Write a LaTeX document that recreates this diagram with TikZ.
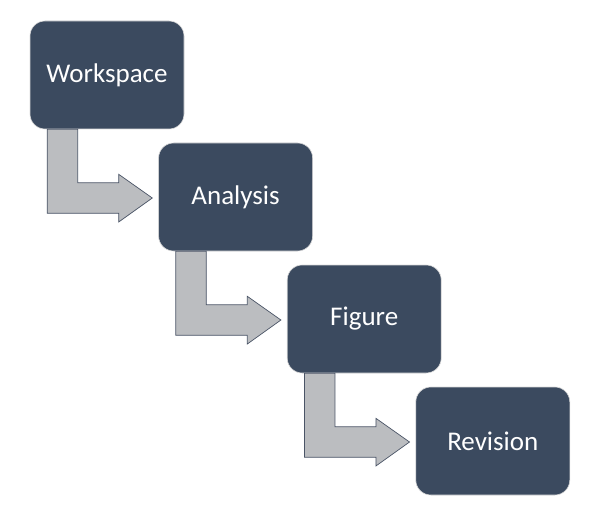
\documentclass[tikz,border=0pt]{standalone}
\usepackage{fontspec}
\setmainfont{Carlito}
\usetikzlibrary{calc,positioning}
\definecolor{boxblue}{HTML}{3B4A5F}
\definecolor{arrowgrey}{HTML}{BBBDC0}
\definecolor{arrowline}{HTML}{4A5466}

\begin{document}
\begin{tikzpicture}[x=1pt,y=1pt]

\tikzset{stepbox/.style={shape=rectangle,rounded corners=15pt,fill=boxblue,draw=black!15,line width=0.6pt,minimum width=154pt,minimum height=108pt,inner sep=0pt,text=white,font=\fontsize{27}{31}\selectfont},
bentarrow/.style={fill=arrowgrey,draw=arrowline,line width=0.7pt,line join=miter}}

\useasboundingbox (0,0) rectangle (589,507);

% boxes
\node[stepbox] (ws) at (107,432) {Workspace};
\node[stepbox] (ana) at ($(ws)+(128.6,-122)$) {Analysis};
\node[stepbox] (fig) at ($(ana)+(128.6,-122)$) {Figure};
\node[stepbox] (rev) at ($(fig)+(128.6,-122)$) {Revision};

% bent arrows
\foreach \a/\b in {ws/ana, ana/fig, fig/rev}
  \draw[bentarrow] ($(\a.south west)+(17.5,0)$) -- ($(\a.south west)+(48,0)$)
    -- ($(\a.south west)+(48,-53.5)$) -- ($(\a.south west)+(89,-53.5)$)
    -- ($(\a.south west)+(89,-45)$) -- ($(\b.west)+(-6,-1)$)
    -- ($(\a.south west)+(89,-92.7)$) -- ($(\a.south west)+(89,-84)$)
    -- ($(\a.south west)+(17.5,-84)$) -- cycle;

\end{tikzpicture}
\end{document}
